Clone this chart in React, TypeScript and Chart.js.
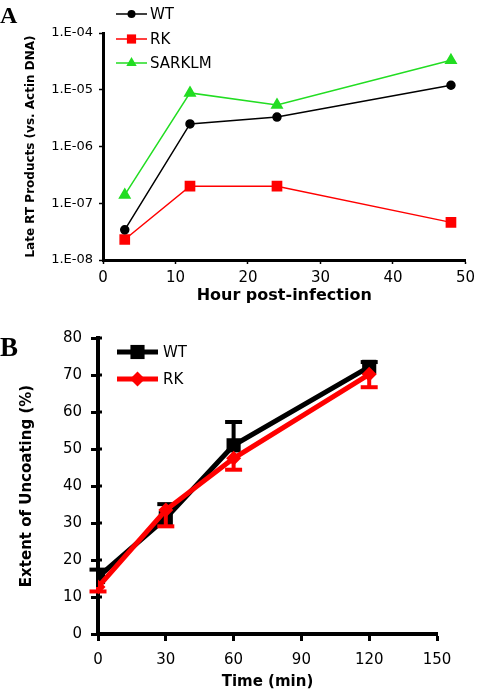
import React, { useEffect, useRef } from 'react';
import { Chart, registerables } from 'chart.js';

Chart.register(...registerables);

// ---------- Panel A data ----------
const hoursA = [3, 12, 24, 48];
const wtA = [3.4e-8, 2.5e-6, 3.3e-6, 1.2e-5];
const rkA = [2.3e-8, 2.0e-7, 2.0e-7, 4.6e-8];
const sarklmA = [1.4e-7, 8.8e-6, 5.4e-6, 3.3e-5];
const yTickValuesA = [1e-8, 1e-7, 1e-6, 1e-5, 1e-4];
const yTickLabelsA = ['1.E-08', '1.E-07', '1.E-06', '1.E-05', '1.E-04'];
const xTicksA = [0, 10, 20, 30, 40, 50];

// ---------- Panel B data ----------
const timesB = [0, 30, 60, 120];
const wtB = [15.4, 31.3, 51, 72.2];
const wtErrB = [2, 3.8, 6.3, 1.3];
const rkB = [12.7, 33.5, 47.5, 70.2];
const rkErrB = [1.2, 4.4, 3.1, 3.5];
const yTicksB = [0, 10, 20, 30, 40, 50, 60, 70, 80];
const xTicksB = [0, 30, 60, 90, 120, 150];

const FONT = "'DejaVu Sans', Verdana, sans-serif";
Chart.defaults.font.family = FONT;
Chart.defaults.color = '#000';

function pts(xs: number[], ys: number[]) {
  return xs.map((x, i) => ({ x, y: ys[i] }));
}

function drawMarker(ctx: CanvasRenderingContext2D, style: string, x: number, y: number, r: number, color: string) {
  ctx.save();
  ctx.fillStyle = color;
  ctx.beginPath();
  if (style === 'circle') {
    ctx.arc(x, y, r, 0, Math.PI * 2);
  } else if (style === 'rect') {
    const s = Math.SQRT1_2 * r;
    ctx.rect(x - s, y - s, 2 * s, 2 * s);
  } else if (style === 'rectRot') {
    ctx.moveTo(x - r, y);
    ctx.lineTo(x, y - r);
    ctx.lineTo(x + r, y);
    ctx.lineTo(x, y + r);
    ctx.closePath();
  } else if (style === 'triangle') {
    const edge = r * 3 / Math.sqrt(3);
    const h = edge * Math.sqrt(3) / 2;
    ctx.moveTo(x - edge / 2, y + h / 3);
    ctx.lineTo(x, y - 2 * h / 3);
    ctx.lineTo(x + edge / 2, y + h / 3);
    ctx.closePath();
  }
  ctx.fill();
  ctx.restore();
}

function makeLegend(cfg: { x1: number; x2: number; ys: number[]; fontSize: number; gap: number; lineWidth: number }) {
  return {
    id: 'customLegend',
    afterDraw(chart: any) {
      const ctx: CanvasRenderingContext2D = chart.ctx;
      ctx.save();
      chart.data.datasets.forEach((ds: any, i: number) => {
        const y = cfg.ys[i];
        ctx.strokeStyle = ds.borderColor;
        ctx.lineWidth = cfg.lineWidth;
        ctx.beginPath();
        ctx.moveTo(cfg.x1, y);
        ctx.lineTo(cfg.x2, y);
        ctx.stroke();
        drawMarker(ctx, ds.pointStyle, (cfg.x1 + cfg.x2) / 2, y, ds.pointRadius, ds.pointBackgroundColor);
        ctx.fillStyle = '#000';
        ctx.font = `${cfg.fontSize}px ${FONT}`;
        ctx.textBaseline = 'middle';
        ctx.textAlign = 'left';
        ctx.fillText(ds.label, cfg.x2 + cfg.gap, y + 1);
      });
      ctx.restore();
    },
  };
}

const errorBarPlugin = {
  id: 'errorBars',
  afterDatasetDraw(chart: any, args: any) {
    const ds = chart.data.datasets[args.index];
    if (!ds.errors) return;
    const ctx: CanvasRenderingContext2D = chart.ctx;
    const yScale = chart.scales.y;
    const meta = args.meta;
    ctx.save();
    ctx.strokeStyle = ds.borderColor;
    ctx.lineWidth = 4;
    ds.data.forEach((p: any, j: number) => {
      const el = meta.data[j];
      const end = p.y + ds.errDir * ds.errors[j];
      const y0 = yScale.getPixelForValue(p.y);
      const y1 = yScale.getPixelForValue(end);
      ctx.beginPath();
      ctx.moveTo(el.x, y0);
      ctx.lineTo(el.x, y1);
      ctx.stroke();
      ctx.beginPath();
      ctx.moveTo(el.x - 8.5, y1);
      ctx.lineTo(el.x + 8.5, y1);
      ctx.stroke();
    });
    ctx.restore();
  },
};

const innerTicksPlugin = {
  id: 'innerTicks',
  afterDraw(chart: any) {
    const ctx: CanvasRenderingContext2D = chart.ctx;
    const y = chart.scales.y;
    const left = chart.chartArea.left;
    ctx.save();
    ctx.strokeStyle = '#000';
    ctx.lineWidth = 3;
    y.ticks.forEach((t: any) => {
      const py = y.getPixelForValue(t.value);
      ctx.beginPath();
      ctx.moveTo(left, py);
      ctx.lineTo(left + 4, py);
      ctx.stroke();
    });
    ctx.restore();
  },
};

function configA(): any {
  return {
    type: 'line',
    data: {
      datasets: [
        { label: 'WT', data: pts(hoursA, wtA), borderColor: '#000000', backgroundColor: '#000000', pointBackgroundColor: '#000000', pointBorderColor: '#000000', pointStyle: 'circle', pointRadius: 4, borderWidth: 1.5 },
        { label: 'RK', data: pts(hoursA, rkA), borderColor: '#ff0000', backgroundColor: '#ff0000', pointBackgroundColor: '#ff0000', pointBorderColor: '#ff0000', pointStyle: 'rect', pointRadius: 6.5, borderWidth: 1.5 },
        { label: 'SARKLM', data: pts(hoursA, sarklmA), borderColor: '#22dd22', backgroundColor: '#22dd22', pointBackgroundColor: '#22dd22', pointBorderColor: '#22dd22', pointStyle: 'triangle', pointRadius: 6, borderWidth: 1.5 },
      ],
    },
    options: {
      animation: false,
      responsive: false,
      layout: { padding: { top: 33, right: 9, left: 0, bottom: 0 } },
      plugins: { legend: { display: false }, tooltip: { enabled: false } },
      scales: {
        x: {
          type: 'linear', min: 0, max: 50,
          afterBuildTicks: (s: any) => { s.ticks = xTicksA.map((v) => ({ value: v })); },
          afterFit: (s: any) => { s.height = 60; },
          ticks: { font: { size: 15 }, color: '#000', padding: 5, maxRotation: 0 },
          grid: { drawOnChartArea: false, drawTicks: true, tickLength: 4, tickColor: '#000', tickWidth: 1.5 },
          border: { color: '#000', width: 3 },
          title: { display: true, text: 'Hour post-infection', font: { size: 16, weight: 'bold' }, color: '#000', padding: { top: 0, bottom: 15 } },
        },
        y: {
          type: 'logarithmic', min: 1e-8, max: 1e-4,
          afterBuildTicks: (s: any) => { s.ticks = yTickValuesA.map((v) => ({ value: v })); },
          afterFit: (s: any) => { s.width = 103; },
          ticks: { callback: (_v: any, i: number) => yTickLabelsA[i], font: { size: 13 }, color: '#000', padding: 6 },
          grid: { drawOnChartArea: false, drawTicks: true, tickLength: 4, tickColor: '#000', tickWidth: 1.5 },
          border: { color: '#000', width: 3 },
          title: { display: true, text: 'Late RT Products (vs. Actin DNA)', font: { size: 12, weight: 'bold' }, color: '#000', padding: { top: 24, bottom: 0 } },
        },
      },
    },
    plugins: [makeLegend({ x1: 116, x2: 147, ys: [14, 39, 63], fontSize: 15, gap: 3, lineWidth: 1.5 })],
  };
}

function configB(): any {
  return {
    type: 'line',
    data: {
      datasets: [
        { label: 'WT', data: pts(timesB, wtB), errors: wtErrB, errDir: 1, order: 1, borderColor: '#000000', backgroundColor: '#000000', pointBackgroundColor: '#000000', pointBorderColor: '#000000', pointStyle: 'rect', pointRadius: 10, pointBorderWidth: 0, borderWidth: 5 },
        { label: 'RK', data: pts(timesB, rkB), errors: rkErrB, errDir: -1, order: 0, borderColor: '#ff0000', backgroundColor: '#ff0000', pointBackgroundColor: '#ff0000', pointBorderColor: '#ff0000', pointStyle: 'rectRot', pointRadius: 7.5, pointBorderWidth: 0, borderWidth: 5 },
      ],
    },
    options: {
      animation: false,
      responsive: false,
      layout: { padding: { top: 10, right: 43, left: 0, bottom: 0 } },
      plugins: { legend: { display: false }, tooltip: { enabled: false } },
      scales: {
        x: {
          type: 'linear', min: 0, max: 150,
          afterBuildTicks: (s: any) => { s.ticks = xTicksB.map((v) => ({ value: v })); },
          afterFit: (s: any) => { s.height = 58; },
          ticks: { font: { size: 15 }, color: '#000', padding: 10, maxRotation: 0 },
          grid: { drawOnChartArea: false, drawTicks: true, tickLength: 7, tickColor: '#000', tickWidth: 3 },
          border: { color: '#000', width: 4 },
          title: { display: true, text: 'Time (min)', font: { size: 15, weight: 'bold' }, color: '#000', padding: { top: 0, bottom: 1 } },
        },
        y: {
          type: 'linear', min: 0, max: 80,
          afterBuildTicks: (s: any) => { s.ticks = yTicksB.map((v) => ({ value: v })); },
          afterFit: (s: any) => { s.width = 98; },
          ticks: { font: { size: 15 }, color: '#000', padding: 9 },
          grid: { drawOnChartArea: false, drawTicks: true, tickLength: 7, tickColor: '#000', tickWidth: 3 },
          border: { color: '#000', width: 4 },
          title: { display: true, text: 'Extent of Uncoating (%)', font: { size: 15, weight: 'bold' }, color: '#000', padding: { top: 18, bottom: 0 } },
        },
      },
    },
    plugins: [errorBarPlugin, innerTicksPlugin, makeLegend({ x1: 117, x2: 158, ys: [32, 59], fontSize: 15, gap: 5, lineWidth: 5 })],
  };
}

export default function App() {
  const refA = useRef<HTMLCanvasElement>(null);
  const refB = useRef<HTMLCanvasElement>(null);
  useEffect(() => {
    const a = new Chart(refA.current as HTMLCanvasElement, configA());
    const b = new Chart(refB.current as HTMLCanvasElement, configB());
    return () => {
      a.destroy();
      b.destroy();
    };
  }, []);
  const panelLabel = (size: number): React.CSSProperties => ({
    position: 'absolute',
    left: 0,
    fontFamily: "'Liberation Serif', 'Times New Roman', serif",
    fontWeight: 'bold',
    fontSize: size,
    lineHeight: `${size}px`,
  });
  return (
    <div style={{ position: 'fixed', left: 0, top: 0, width: 480, height: 692, background: '#fff', overflow: 'hidden' }}>
      <canvas ref={refA} width={480} height={320} style={{ position: 'absolute', left: 0, top: 0, width: 480, height: 320 }} />
      <canvas ref={refB} width={480} height={372} style={{ position: 'absolute', left: 0, top: 320, width: 480, height: 372 }} />
      <div style={{ ...panelLabel(24), top: 3 }}>A</div>
      <div style={{ ...panelLabel(27), top: 334 }}>B</div>
    </div>
  );
}
